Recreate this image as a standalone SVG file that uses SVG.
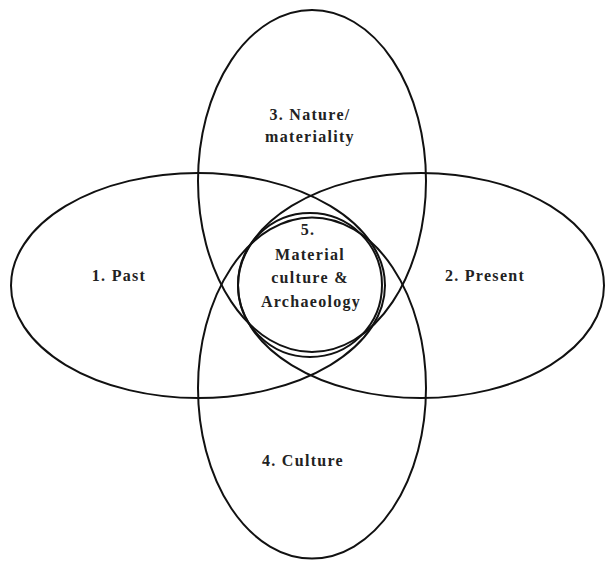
<svg xmlns="http://www.w3.org/2000/svg" width="605" height="562" viewBox="0 0 605 562">
<style>
.shape{fill:none;stroke:#111;stroke-width:2}
.lbl{font-weight:bold;font-size:16px;letter-spacing:1.3px;fill:#222;text-anchor:middle}
</style>
<rect width="605" height="562" fill="#fff"/>
<g font-family="'Liberation Serif', 'DejaVu Serif', serif">
<g id="past"><ellipse class="shape" cx="198" cy="285.5" rx="187" ry="112.5"/><text class="lbl" x="119" y="281">1. Past</text></g>
<g id="present"><ellipse class="shape" cx="421" cy="285.5" rx="183" ry="112.5"/><text class="lbl" x="485" y="281">2. Present</text></g>
<g id="nature"><ellipse class="shape" cx="312" cy="181" rx="114" ry="171"/><text class="lbl" x="310" y="120">3. Nature/</text><text class="lbl" x="310" y="142">materiality</text></g>
<g id="culture"><ellipse class="shape" cx="312" cy="388" rx="114" ry="170.5"/><text class="lbl" x="303" y="466">4. Culture</text></g>
<g id="material"><circle class="shape" cx="310" cy="285" r="72"/><text class="lbl" x="308" y="235">5.</text><text class="lbl" x="310" y="260">Material</text><text class="lbl" x="310" y="283">culture &amp;</text><text class="lbl" x="311" y="307">Archaeology</text></g>
</g>
<g id="connectors"/>
</svg>
